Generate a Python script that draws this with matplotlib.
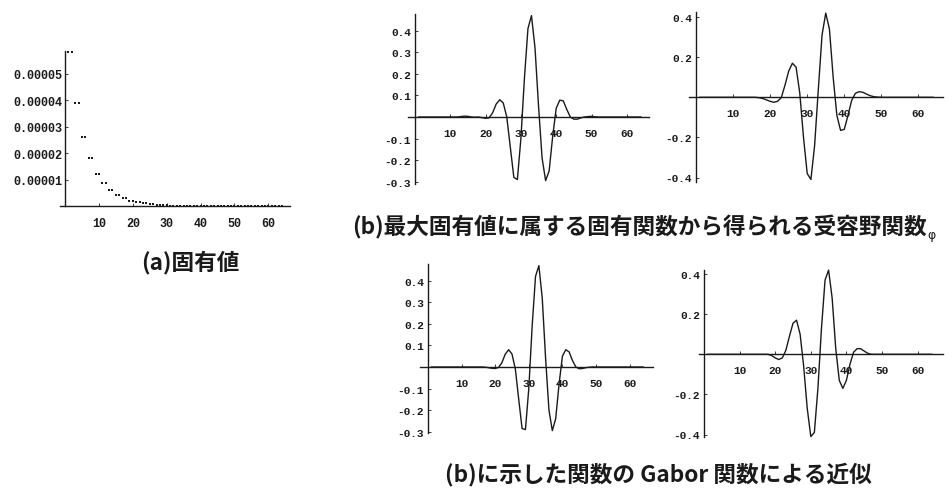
import matplotlib
matplotlib.use("Agg")
import matplotlib.pyplot as plt
import numpy as np

W, H = 953, 489

# ---------------- data ----------------
n_index = list(range(1, 65))
eigenvalues = [5.82e-5, 5.82e-5, 3.88e-5, 3.88e-5, 2.62e-5, 2.62e-5, 1.81e-5, 1.81e-5,
               1.23e-5, 1.23e-5, 0.87e-5, 0.87e-5, 0.63e-5, 0.63e-5, 0.44e-5, 0.44e-5,
               0.30e-5, 0.30e-5, 0.20e-5, 0.20e-5, 0.16e-5, 0.16e-5, 0.11e-5, 0.11e-5,
               0.07e-5, 0.07e-5, 0.05e-5, 0.05e-5, 0.03e-5, 0.03e-5, 0.02e-5, 0.02e-5,
               0.015e-5, 0.015e-5, 0.01e-5, 0.01e-5, 0.008e-5, 0.008e-5, 0.006e-5, 0.006e-5,
               0.005e-5, 0.005e-5, 0.004e-5, 0.004e-5, 0.003e-5, 0.003e-5, 0.002e-5, 0.002e-5,
               0.002e-5, 0.002e-5, 0.001e-5, 0.001e-5, 0.001e-5, 0.001e-5, 0.001e-5, 0.001e-5,
               0.0, 0.0, 0.0, 0.0, 0.0, 0.0, 0.0, 0.0]

# receptive field functions from eigenfunctions (b)
phi_even = [0]*12 + [0.002, 0.004, 0.003, 0.0, -0.001, 0.0, -0.003, -0.006, -0.004, 0.02,
            0.06, 0.08, 0.065, 0.0, -0.14, -0.28, -0.29, -0.10, 0.18, 0.41,
            0.47, 0.32, 0.05, -0.19, -0.295, -0.25, -0.09, 0.04, 0.078, 0.075,
            0.035, 0.0, -0.01, -0.01, -0.004, 0.0, 0.002, 0.003, 0.001] + [0]*13
phi_odd = [0]*16 + [-0.002, -0.006, -0.013, -0.02, -0.025, -0.02, -0.002, 0.06, 0.13, 0.17,
           0.15, 0.02, -0.20, -0.38, -0.41, -0.24, 0.04, 0.31, 0.42, 0.34,
           0.10, -0.09, -0.165, -0.16, -0.09, -0.015, 0.02, 0.028, 0.025, 0.016,
           0.008, 0.003, 0.001] + [0]*15
# Gabor approximations
gabor_even = [0]*16 + [-0.001, -0.003, -0.006, -0.007, -0.002, 0.02, 0.06, 0.08, 0.06, -0.01,
              -0.15, -0.285, -0.29, -0.10, 0.19, 0.42, 0.47, 0.32, 0.04, -0.20,
              -0.295, -0.24, -0.08, 0.05, 0.08, 0.07, 0.03, 0.0, -0.008, -0.007,
              -0.003, -0.001] + [0]*16
gabor_odd = [0]*18 + [-0.006, -0.018, -0.026, -0.018, 0.02, 0.09, 0.155, 0.17, 0.10, -0.06,
             -0.27, -0.41, -0.39, -0.17, 0.13, 0.37, 0.42, 0.28, 0.03, -0.13,
             -0.17, -0.13, -0.05, 0.01, 0.028, 0.028, 0.016, 0.005, 0.0] + [0]*17

x_ticks = [10, 20, 30, 40, 50, 60]
eig_yticks = [1e-5, 2e-5, 3e-5, 4e-5, 5e-5]
eig_ylabels = ["0.00001", "0.00002", "0.00003", "0.00004", "0.00005"]
even_yticks = [-0.3, -0.2, -0.1, 0.1, 0.2, 0.3, 0.4]
even_ylabels = ["-0.3", "-0.2", "-0.1", "0.1", "0.2", "0.3", "0.4"]
odd_yticks = [-0.4, -0.2, 0.2, 0.4]
odd_ylabels = ["-0.4", "-0.2", "0.2", "0.4"]

caption_a = "(a)固有値"
caption_b = "(b)最大固有値に属する固有関数から得られる受容野関数"
caption_b_sub = "φ"
caption_c = "(b)に示した関数の Gabor 関数による近似"

# ---------------- figure ----------------
fig = plt.figure(figsize=(W/100, H/100), dpi=100)
fig.patch.set_facecolor("white")

INK = "#1a1a1a"
TICKFONT = "Liberation Mono"


def make_axes(x0, sx, xlim, y0, sy, ylim):
    left = x0 + xlim[0]*sx
    right = x0 + xlim[1]*sx
    top = y0 - ylim[1]*sy
    bottom = y0 - ylim[0]*sy
    ax = fig.add_axes([left/W, 1 - bottom/H, (right-left)/W, (bottom-top)/H])
    ax.set_xlim(*xlim)
    ax.set_ylim(*ylim)
    ax.patch.set_alpha(0)
    for s in ("top", "right"):
        ax.spines[s].set_visible(False)
    ax.spines["left"].set_position(("data", 0))
    ax.spines["bottom"].set_position(("data", 0))
    for s in ("left", "bottom"):
        ax.spines[s].set_linewidth(1.0)
        ax.spines[s].set_color(INK)
    ax.tick_params(axis="both", direction="in", length=2.5, width=0.6, color=INK,
                   labelcolor=INK)
    return ax


def style_ticks(ax, yticks, ylabels, fsize, xpad, ypad):
    ax.set_xticks(x_ticks)
    ax.set_xticklabels([str(t) for t in x_ticks], fontfamily=TICKFONT, fontsize=fsize,
                       fontweight="bold")
    ax.set_yticks(yticks)
    ax.set_yticklabels(ylabels, fontfamily=TICKFONT, fontsize=fsize, fontweight="bold")
    ax.tick_params(axis="x", pad=xpad)
    ax.tick_params(axis="y", pad=ypad)


# (a) eigenvalues
ax_a = make_axes(65, 3.39, (-1.5, 66.4), 207.2, 2.65e6, (0, 5.86e-5))
ax_a.scatter(n_index, eigenvalues, s=3, marker="s", color=INK, linewidths=0, clip_on=False, zorder=3)
style_ticks(ax_a, eig_yticks, eig_ylabels, 8.5, 8, 2)

# (b) eigenfunction receptive fields
ax_b1 = make_axes(415, 3.53, (-2, 66.4), 118, 215.7, (-0.31, 0.477))
ax_b1.plot(n_index, phi_even, color=INK, lw=1.0, clip_on=False)
style_ticks(ax_b1, even_yticks, even_ylabels, 8, 8, 3)

ax_b2 = make_axes(696, 3.707, (-1.8, 66.6), 98.3, 200.5, (-0.421, 0.424))
ax_b2.plot(n_index, phi_odd, color=INK, lw=1.0, clip_on=False)
style_ticks(ax_b2, odd_yticks, odd_ylabels, 8, 8, 3)

# (c) Gabor approximations
ax_c1 = make_axes(428, 3.36, (-2.4, 67), 368, 215.7, (-0.306, 0.477))
ax_c1.plot(n_index, gabor_even, color=INK, lw=1.0, clip_on=False)
style_ticks(ax_c1, even_yticks, even_ylabels, 8, 8, 3)

ax_c2 = make_axes(704, 3.56, (-1.4, 67), 355.3, 200.5, (-0.414, 0.42))
ax_c2.plot(n_index, gabor_odd, color=INK, lw=1.0, clip_on=False)
style_ticks(ax_c2, odd_yticks, odd_ylabels, 8, 8, 3)

# captions
CAP = dict(family=["Noto Sans CJK JP", "DejaVu Sans"], fontsize=16.3, weight="bold", color=INK)
fig.text(190/W, 1 - 262/H, caption_a, ha="center", va="center", **CAP)
tb = fig.text(352/W, 1 - 227/H, caption_b, ha="left", va="center", **CAP)
fig.canvas.draw()
bb = tb.get_window_extent()
fig.text((bb.x1 + 1)/W, 1 - 236/H, caption_b_sub, ha="left", va="center",
         family=["DejaVu Sans"], fontsize=9, color=INK)
fig.text(445/W, 1 - 474/H, caption_c, ha="left", va="center", **CAP)

fig.savefig("out.png", dpi=100, facecolor="white")
